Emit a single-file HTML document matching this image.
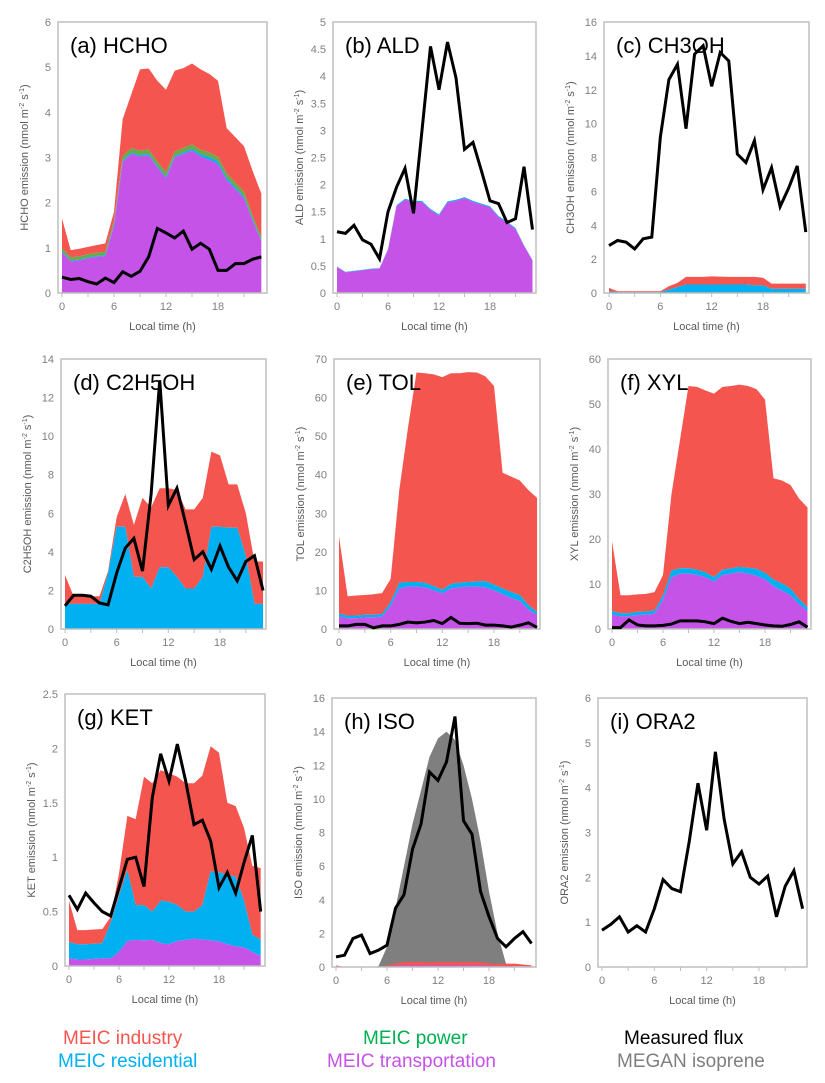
<!DOCTYPE html>
<html><head><meta charset="utf-8"><style>
body{margin:0;background:#fff;width:825px;height:1083px;overflow:hidden;font-family:"Liberation Sans",sans-serif}
.leg{position:absolute;font-size:19px;white-space:nowrap}
</style></head><body>
<svg id="chart" width="825" height="1083" style="position:absolute;left:0;top:0" xmlns="http://www.w3.org/2000/svg"></svg>
<div class="leg" style="left:63px;top:1028px;color:#f5554f">MEIC industry</div>
<div class="leg" style="left:58px;top:1051px;color:#00b0f0">MEIC residential</div>
<div class="leg" style="left:363px;top:1028px;color:#00b050">MEIC power</div>
<div class="leg" style="left:327px;top:1051px;color:#c653e8">MEIC transportation</div>
<div class="leg" style="left:624px;top:1028px;color:#000">Measured flux</div>
<div class="leg" style="left:617px;top:1051px;color:#7f7f7f">MEGAN isoprene</div>
<script>
const hours=[0,1,2,3,4,5,6,7,8,9,10,11,12,13,14,15,16,17,18,19,20,21,22,23];
const xTicks=[0,6,12,18];
// (a) HCHO
const hchoTrans=[0.9,0.7,0.72,0.77,0.8,0.82,1.5,2.9,3.08,3.02,3.05,2.78,2.55,3.0,3.08,3.15,3.02,2.95,2.85,2.5,2.3,2.1,1.6,1.15];
const hchoRes=[0.02,0.02,0.02,0.02,0.02,0.02,0.03,0.03,0.03,0.03,0.03,0.03,0.03,0.03,0.03,0.04,0.05,0.06,0.06,0.05,0.04,0.04,0.03,0.02];
const hchoPow=[0.07,0.07,0.07,0.07,0.07,0.07,0.08,0.1,0.1,0.1,0.1,0.1,0.1,0.1,0.1,0.1,0.1,0.1,0.1,0.1,0.1,0.1,0.08,0.07];
const hchoTotal=[1.65,0.95,0.98,1.02,1.06,1.1,1.8,3.85,4.4,4.95,4.97,4.7,4.5,4.92,4.98,5.08,4.95,4.85,4.7,3.65,3.45,3.25,2.7,2.2];
const hchoMeas=[0.35,0.3,0.32,0.25,0.2,0.33,0.23,0.47,0.37,0.48,0.8,1.43,1.33,1.22,1.37,0.97,1.1,0.97,0.5,0.5,0.65,0.65,0.75,0.8];
// (b) ALD
const aldTrans=[0.48,0.38,0.4,0.42,0.44,0.45,0.8,1.6,1.72,1.68,1.68,1.53,1.43,1.67,1.7,1.75,1.68,1.63,1.58,1.4,1.3,1.18,0.87,0.6];
const aldRes=[0.01,0.01,0.01,0.01,0.01,0.01,0.01,0.02,0.02,0.02,0.02,0.02,0.02,0.02,0.02,0.02,0.02,0.02,0.02,0.02,0.02,0.02,0.01,0.01];
const aldMeas=[1.13,1.1,1.25,0.98,0.9,0.63,1.5,1.95,2.3,1.47,3.0,4.55,3.75,4.63,3.97,2.65,2.78,2.25,1.7,1.65,1.3,1.37,2.33,1.17];
// (c) CH3OH
const ch3ohRes=[0.1,0.05,0.05,0.05,0.05,0.05,0.05,0.2,0.35,0.5,0.5,0.5,0.5,0.5,0.5,0.5,0.5,0.45,0.45,0.25,0.25,0.25,0.25,0.25];
const ch3ohTotal=[0.3,0.1,0.1,0.1,0.1,0.1,0.1,0.4,0.6,0.95,0.95,0.95,0.98,0.97,0.95,0.95,0.95,0.95,0.9,0.55,0.55,0.55,0.55,0.55];
const ch3ohMeas=[2.8,3.1,3.0,2.6,3.2,3.3,9.2,12.6,13.5,9.7,14.1,14.6,12.2,14.2,13.7,8.2,7.7,9.0,6.1,7.4,5.1,6.2,7.5,3.6];
// (d) C2H5OH
const etohRes=[1.3,1.3,1.3,1.3,1.3,2.9,5.3,5.3,2.7,2.7,2.1,3.2,3.2,2.7,2.1,2.1,2.7,5.3,5.3,5.25,5.25,3.8,1.3,1.3];
const etohTotal=[2.8,1.7,1.7,1.7,1.7,3.0,5.8,7.0,5.4,6.8,6.3,7.3,7.3,7.2,6.2,6.2,6.8,9.2,9.0,7.5,7.5,6.0,3.5,3.5];
const etohMeas=[1.2,1.75,1.75,1.7,1.35,1.25,2.9,4.2,4.7,3.0,7.0,12.9,6.4,7.3,5.5,3.6,4.0,3.1,4.3,3.2,2.5,3.5,3.8,2.0];
// (e) TOL
const tolTrans=[3.2,2.8,2.8,3,3,3.2,6,10.5,11,11,10.8,10,9.2,10.5,10.8,11,11,10.8,10,9,8,7.3,5,3.6];
const tolRes=[0.8,0.7,0.7,0.7,0.7,0.7,1,1.5,1.2,1.2,1.2,1.1,1,1.2,1.2,1.2,1.3,1.6,1.5,1.5,1.6,1.5,1.2,0.8];
const tolTotal=[24,8.5,8.7,8.8,9,9.3,13,36,52,66.5,66.3,66,65.3,66.3,66.3,66.6,66.5,65.5,63,40.5,39.5,38.5,36,34];
const tolMeas=[0.8,0.8,1.2,1.2,0.3,0.8,0.8,1.2,1.8,1.6,1.8,2.2,1.4,3.0,1.5,1.4,1.5,1.0,1.0,0.8,0.5,1.0,1.6,0.4];
// (f) XYL
const xylTrans=[3.2,2.8,2.8,3.1,3.2,3.4,6.5,11.5,12.3,12.3,12,11.5,10.5,12,12.3,12.6,12.3,11.8,11,9.5,8.5,7.5,5.5,4];
const xylRes=[0.8,0.7,0.7,0.7,0.7,0.7,1,1.5,1.2,1.2,1.2,1.1,1,1.2,1.2,1.2,1.3,1.6,1.5,1.5,1.6,1.5,1.2,0.8];
const xylTotal=[19.5,7.5,7.5,7.7,7.8,8.2,12,30,42,54,53.8,53,52.3,53.8,54,54.3,54,53.3,51,33.5,33,32,29,27];
const xylMeas=[0.3,0.3,2.0,0.9,0.7,0.7,0.8,1.1,1.8,1.8,1.8,1.6,1.2,2.4,1.7,1.2,1.5,1.2,0.9,0.7,0.6,1.0,1.6,0.4];
// (g) KET
const ketTrans=[0.07,0.06,0.06,0.065,0.07,0.07,0.13,0.23,0.24,0.235,0.24,0.21,0.2,0.23,0.24,0.25,0.245,0.235,0.225,0.2,0.18,0.17,0.13,0.09];
const ketResTop=[0.22,0.2,0.2,0.205,0.21,0.4,0.65,0.88,0.56,0.56,0.5,0.6,0.59,0.56,0.5,0.5,0.56,0.87,0.86,0.84,0.82,0.6,0.29,0.24];
const ketTotal=[0.6,0.33,0.33,0.335,0.34,0.45,0.85,1.38,1.35,1.74,1.68,1.8,1.77,1.74,1.68,1.68,1.75,2.02,1.96,1.5,1.47,1.27,0.92,0.9];
const ketMeas=[0.65,0.52,0.67,0.58,0.5,0.46,0.72,0.98,1.0,0.73,1.55,1.95,1.7,2.04,1.7,1.3,1.34,1.15,0.72,0.86,0.67,0.95,1.2,0.5];
// (h) ISO
const isoMegan=[0,0,0,0,0,0.05,1.2,3.5,6,8.5,10.5,12.5,13.6,14,13.5,12,10,7.5,4.5,2,0.2,0,0,0];
const isoTrans=[0.02,0,0,0,0,0,0.05,0.08,0.1,0.1,0.1,0.1,0.1,0.1,0.1,0.1,0.1,0.1,0.08,0.06,0.06,0.05,0.04,0.03];
const isoTotal=[0.1,0,0,0,0,0,0.1,0.2,0.3,0.3,0.3,0.28,0.3,0.3,0.3,0.3,0.3,0.28,0.22,0.18,0.2,0.2,0.15,0.1];
const isoMeas=[0.6,0.7,1.7,1.9,0.8,1.0,1.3,3.5,4.3,7.0,8.5,11.6,11.1,12.2,14.9,8.7,7.9,4.5,3.0,1.7,1.2,1.7,2.1,1.4];
// (i) ORA2
const ora2Res=[0,0,0,0,0,0,0.01,0.01,0,0,0,0,0,0,0,0,0,0.01,0.01,0.01,0.01,0.01,0,0];
const ora2Meas=[0.82,0.95,1.12,0.78,0.92,0.78,1.3,1.95,1.75,1.68,2.8,4.1,3.05,4.8,3.3,2.3,2.57,2.0,1.85,2.03,1.12,1.8,2.15,1.3];

const RED='#f5554f',PUR='#c653e8',BLU='#00b0f0',GRN='#6aaa4a',GRY='#7f7f7f';
const svg=document.getElementById('chart');
const NS='http://www.w3.org/2000/svg';
function mk(tag,attrs,parent){const e=document.createElementNS(NS,tag);for(const k in attrs)e.setAttribute(k,attrs[k]);(parent||svg).appendChild(e);return e;}
const add=(a,b)=>a.map((v,i)=>v+b[i]);

function panel(p){
  const g=mk('g',{});
  
  
  const xs=h=>p.x0+h*(p.x18-p.x0)/18;
  const ys=v=>p.bottom-v/p.ymax*(p.bottom-p.top);
  p.areas.forEach(a=>{
    let d='M'+hours.map((h,i)=>xs(h)+','+ys(a.top[i])).join(' L');
    const bt=a.bot||hours.map(()=>0);
    for(let i=hours.length-1;i>=0;i--)d+=' L'+xs(hours[i])+','+ys(bt[i]);
    d+='Z';
    const e=mk('path',{d:d,fill:a.color,stroke:'none'},g);
    
    
  });
  const fr=mk('rect',{x:p.left,y:p.top,width:p.right-p.left,height:p.bottom-p.top,fill:'none',stroke:'#bfbfbf','stroke-width':1.5},g);
  
  
  const ln=mk('polyline',{points:hours.map((h,i)=>xs(h)+','+ys(p.meas[i])).join(' '),fill:'none',stroke:'#000','stroke-width':3,'stroke-linejoin':'miter'},g);
  
  
  for(let v=0;v<=p.ymax+1e-9;v+=p.step){
    const t=mk('text',{x:p.left-7,y:ys(v)+4,'text-anchor':'end','font-size':11,fill:'#7f7f7f'},g);
    t.textContent=String(Math.round(v*10)/10);
    
    
  }
  for(let h=0;h<=24;h+=3){
    if(xs(h)>p.right)continue;
    mk('line',{x1:xs(h),x2:xs(h),y1:p.bottom,y2:p.bottom+4,stroke:'#bfbfbf','stroke-width':1},g);
  }
  xTicks.forEach(h=>{
    const t=mk('text',{x:xs(h),y:p.bottom+17,'text-anchor':'middle','font-size':11,fill:'#7f7f7f'},g);
    t.textContent=h;
    
    
  });
  const xt=mk('text',{x:(p.left+p.right)/2,y:p.bottom+37,'text-anchor':'middle','font-size':11,fill:'#595959'},g);
  xt.textContent='Local time (h)';
  
  
  const cy=(p.top+p.bottom)/2, cx=p.left-30;
  const yt=mk('text',{x:cx,y:cy,'text-anchor':'middle','font-size':11,fill:'#595959',transform:'rotate(-90 '+cx+' '+cy+')'},g);
  yt.innerHTML=p.name+' emission (nmol m<tspan dy="-4" font-size="7">-2</tspan><tspan dy="4"> s</tspan><tspan dy="-4" font-size="7">-1</tspan><tspan dy="4">)</tspan>';
  
  
  const tt=mk('text',{x:p.left+12,y:p.top+31,'font-size':22,fill:'#000'},g);
  tt.textContent=p.label;
  
  
}

const hR=add(hchoTrans,hchoRes), hP=add(hR,hchoPow);
panel({id:'hcho',name:'HCHO',label:'(a) HCHO',left:58,right:267,top:22,bottom:293,x0:62,x18:218,ymax:6,step:1,meas:hchoMeas,
 areas:[{name:'industry-area',top:hchoTotal,bot:hP,color:RED},{name:'power-area',top:hP,bot:hR,color:GRN},{name:'residential-area',top:hR,bot:hchoTrans,color:BLU},{name:'transportation-area',top:hchoTrans,color:PUR}]});
panel({id:'ald',name:'ALD',label:'(b) ALD',left:333,right:536,top:22,bottom:293,x0:337,x18:490,ymax:5,step:0.5,meas:aldMeas,
 areas:[{name:'residential-area',top:add(aldTrans,aldRes),bot:aldTrans,color:BLU},{name:'transportation-area',top:aldTrans,color:PUR}]});
panel({id:'ch3oh',name:'CH3OH',label:'(c) CH3OH',left:604,right:809,top:22,bottom:293,x0:609,x18:763,ymax:16,step:2,meas:ch3ohMeas,
 areas:[{name:'industry-area',top:ch3ohTotal,bot:ch3ohRes,color:RED},{name:'residential-area',top:ch3ohRes,color:BLU}]});
panel({id:'c2h5oh',name:'C2H5OH',label:'(d) C2H5OH',left:61,right:266,top:359,bottom:629,x0:65,x18:220,ymax:14,step:2,meas:etohMeas,
 areas:[{name:'industry-area',top:etohTotal,bot:etohRes,color:RED},{name:'residential-area',top:etohRes,color:BLU}]});
const tR=add(tolTrans,tolRes);
panel({id:'tol',name:'TOL',label:'(e) TOL',left:334,right:540,top:359,bottom:629,x0:339,x18:494,ymax:70,step:10,meas:tolMeas,
 areas:[{name:'industry-area',top:tolTotal,bot:tR,color:RED},{name:'residential-area',top:tR,bot:tolTrans,color:BLU},{name:'transportation-area',top:tolTrans,color:PUR}]});
const xR=add(xylTrans,xylRes);
panel({id:'xyl',name:'XYL',label:'(f) XYL',left:608,right:811,top:359,bottom:629,x0:612,x18:765,ymax:60,step:10,meas:xylMeas,
 areas:[{name:'industry-area',top:xylTotal,bot:xR,color:RED},{name:'residential-area',top:xR,bot:xylTrans,color:BLU},{name:'transportation-area',top:xylTrans,color:PUR}]});
panel({id:'ket',name:'KET',label:'(g) KET',left:65,right:265,top:694,bottom:966,x0:69,x18:219,ymax:2.5,step:0.5,meas:ketMeas,
 areas:[{name:'industry-area',top:ketTotal,bot:ketResTop,color:RED},{name:'residential-area',top:ketResTop,bot:ketTrans,color:BLU},{name:'transportation-area',top:ketTrans,color:PUR}]});
panel({id:'iso',name:'ISO',label:'(h) ISO',left:332,right:536,top:698,bottom:967,x0:336,x18:489,ymax:16,step:2,meas:isoMeas,
 areas:[{name:'megan-isoprene-area',top:isoMegan,color:GRY},{name:'industry-area',top:isoTotal,bot:isoTrans,color:RED},{name:'transportation-area',top:isoTrans,color:PUR}]});
panel({id:'ora2',name:'ORA2',label:'(i) ORA2',left:598,right:807,top:698,bottom:967,x0:602,x18:759,ymax:6,step:1,meas:ora2Meas,
 areas:[{name:'residential-area',top:ora2Res,color:BLU}]});
</script>
</body></html>
